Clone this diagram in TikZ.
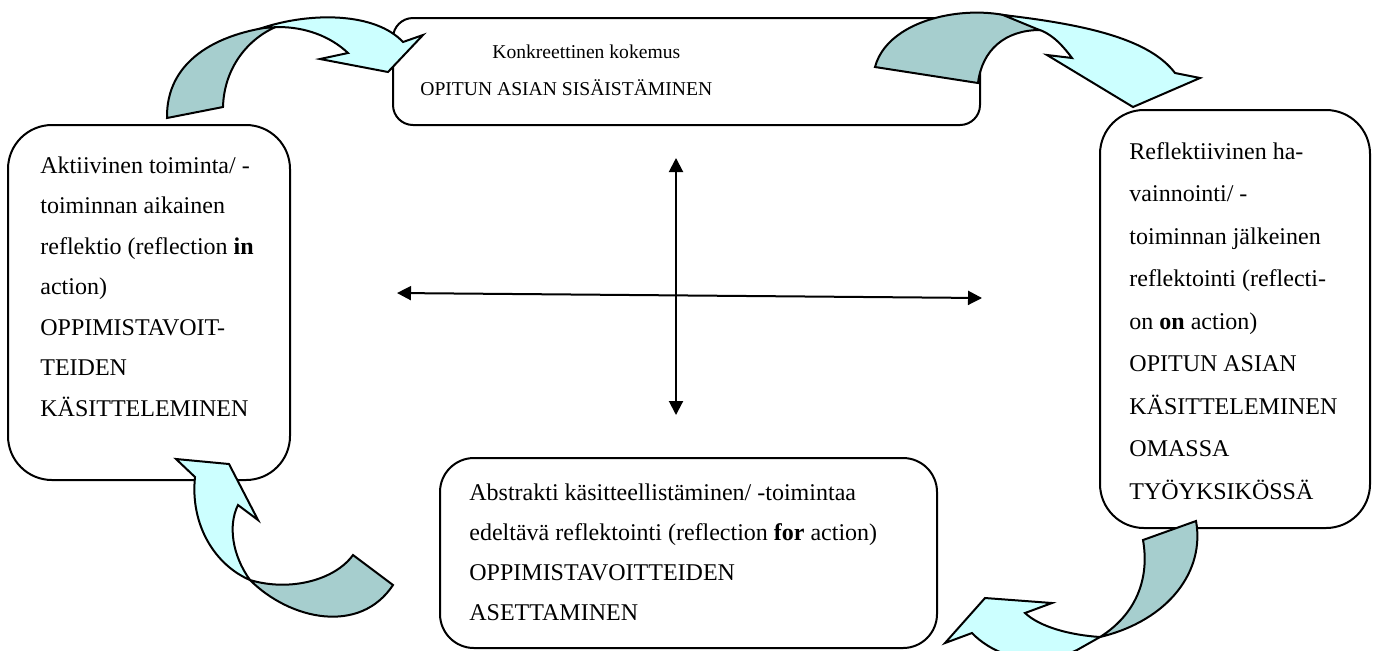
\documentclass[tikz,border=0pt]{standalone}
\usepackage{fontspec}
\setmainfont{Liberation Serif}
\usetikzlibrary{calc,positioning,arrows.meta}
\definecolor{ribbondark}{HTML}{A6CECE}
\definecolor{ribbonlight}{HTML}{CCFFFF}
\newcommand\phasefont{\fontsize{12pt}{20.25pt}\selectfont}

\begin{document}
\begin{tikzpicture}[
  x=0.5pt,y=-0.5pt,
  phase/.style={draw,line width=1pt,inner sep=0pt},
  phasetext/.style={anchor=north west,align=left,inner sep=0pt,font=\phasefont},
  backside/.style={draw,line width=1pt,fill=ribbondark},
  frontside/.style={draw,line width=1pt,fill=ribbonlight},
  axis/.style={line width=1pt,{Triangle[length=7pt,width=7pt]}-{Triangle[length=7pt,width=7pt]}},
  ]

  \useasboundingbox (0,0) rectangle (1379,650);

  % the four phases
  \node (konkreettinen) [phase,rounded corners=10pt,minimum width=293.5pt,minimum height=53.5pt] at (686.5,71.5) {};
  \node (aktiivinen) [phase,rounded corners=22pt,minimum width=141pt,minimum height=177.5pt] at (149,302.5) {};
  \node (reflektiivinen) [phase,rounded corners=22pt,minimum width=135pt,minimum height=209pt] at (1235,319) {};
  \node (abstrakti) [phase,rounded corners=17pt,minimum width=248.5pt,minimum height=95pt] at (688.5,553) {};

  \node (konkreettinen_txt) [phasetext,font=\fontsize{9.8pt}{18.5pt}\selectfont] at ($(konkreettinen.north west)+(28,27)$)
    {\hspace*{36pt}Konkreettinen kokemus\\OPITUN ASIAN SISÄISTÄMINEN};
  \node (aktiivinen_txt) [phasetext] at ($(aktiivinen.north west)+(33,32)$)
    {Aktiivinen toiminta/ -\\toiminnan aikainen\\reflektio (reflection \textbf{in}\\action)\\OPPIMISTAVOIT-\\TEIDEN\\KÄSITTELEMINEN};
  \node (reflektiivinen_txt) [phasetext,font=\fontsize{12pt}{21.25pt}\selectfont] at ($(reflektiivinen.north west)+(30,33)$)
    {Reflektiivinen ha-\\vainnointi/ -\\toiminnan jälkeinen\\reflektointi (reflecti-\\on \textbf{on} action)\\OPITUN ASIAN\\KÄSITTELEMINEN\\OMASSA\\TYÖYKSIKÖSSÄ};
  \node (abstrakti_txt) [phasetext,font=\fontsize{12pt}{20pt}\selectfont] at ($(abstrakti.north west)+(30,26)$)
    {Abstrakti käsitteellistäminen/ -toimintaa\\edeltävä reflektointi (reflection \textbf{for} action)\\OPPIMISTAVOITTEIDEN\\ASETTAMINEN};

  % cross in the middle
  \coordinate (axis_top) at (676,158);
  \coordinate (axis_bottom) at (676,415);
  \coordinate (axis_left) at (397,293);
  \coordinate (axis_right) at (982,298);
  \draw[axis] (axis_bottom) -- (axis_top);
  \draw[axis] (axis_left) -- (axis_right);

  % curved ribbon arrows
  \draw[backside] (167,118) .. controls (166,62) and (215,33) .. (278,26)
    .. controls (248,38) and (224,68) .. (223,107) -- cycle;
  \draw[frontside] (262,28) .. controls (310,12) and (375,12) .. (403,42) -- (423,35) -- (388,72)
    -- (320,59) -- (348,53) .. controls (330,36) and (305,27) .. (278,27) -- cycle;

  \draw[backside] (875,67) .. controls (890,10) and (1000,-2) .. (1040,30)
    .. controls (1005,30) and (982,50) .. (978,83) -- cycle;
  \draw[frontside] (1003,15) .. controls (1090,25) and (1150,40) .. (1175,73) -- (1200,78) -- (1133,107)
    -- (1047,55) -- (1072,58) .. controls (1060,42) and (1050,33) .. (1037,29) -- cycle;

  \draw[frontside] (195,477) .. controls (190,525) and (215,565) .. (250,580)
    .. controls (232,555) and (228,525) .. (238,505) -- (258,520) -- (229,464) -- (176,459) -- cycle;
  \draw[backside] (250,580) .. controls (290,620) and (360,635) .. (393,585) -- (353,555)
    .. controls (335,580) and (290,592) .. (250,580) -- cycle;

  \draw[backside] (1143,540) -- (1196,521) .. controls (1205,570) and (1170,620) .. (1100,637)
    .. controls (1135,615) and (1150,580) .. (1143,540) -- cycle;
  \draw[frontside] (1100,637) .. controls (1070,635) and (1040,627) .. (1025,613) -- (1052,603) -- (985,598)
    -- (945,643) -- (972,633) .. controls (990,652) and (1020,662) .. (1050,662) -- (1077,650) -- cycle;

\end{tikzpicture}
\end{document}
